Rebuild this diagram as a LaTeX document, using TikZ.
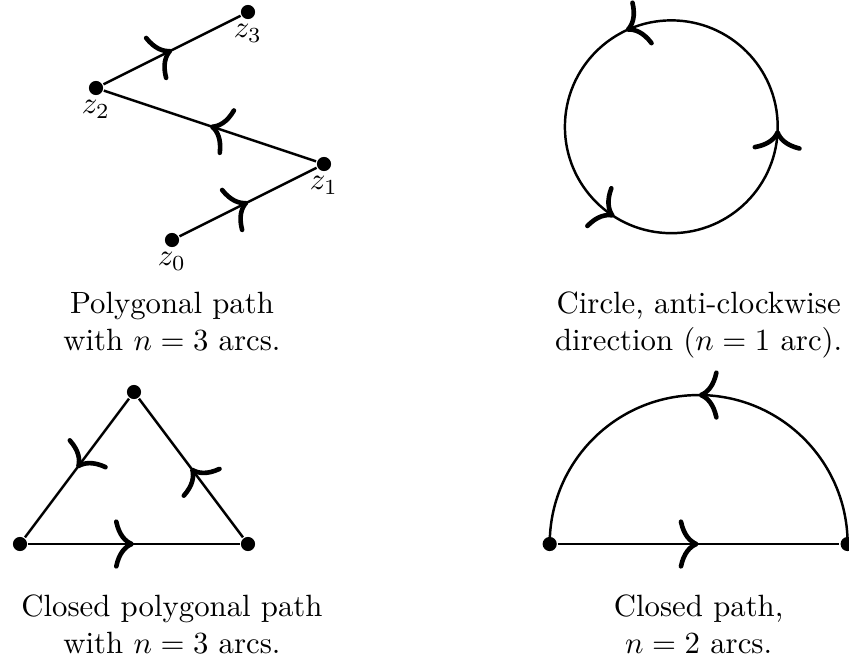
\documentclass[tikz,border=0pt]{standalone}
\usetikzlibrary{arrows.meta, decorations.markings, positioning}

\begin{document}
\begin{tikzpicture}[x=0.868cm, y=0.868cm, thick,
  flowtip/.tip={Computer Modern Rightarrow[length=6.5pt, width=16pt, line width=1.5pt]},
  dot/.style={circle, fill, inner sep=0pt, minimum size=4.6pt},
  lbl/.style={inner sep=3.33pt},
  flow/.style={decoration={markings, mark=at position #1 with {\arrow{flowtip}}}, postaction={decorate}},
  flow/.default=0.5,
  caption/.style={align=center, anchor=north, inner sep=0pt}]
  \useasboundingbox (-2.263,-5.513) rectangle (8.908,3.158);

  % polygonal path
  \node[dot] (z0) at (0,0) {};
  \node[dot] (z1) at (2,1) {};
  \node[dot] (z2) at (-1,2) {};
  \node[dot] (z3) at (1,3) {};
  \foreach \i in {0,...,3}
    \node[lbl, below=-2.3pt of z\i] (lz\i) {$z_\i$};
  \draw[flow] (z0) -- (z1);
  \draw[flow] (z1) -- (z2);
  \draw[flow] (z2) -- (z3);
  \node[caption] (cap1) at (0,-0.666) {Polygonal path\\with $n=3$ arcs.};

  % circle
  \coordinate (o) at (6.57,1.49);
  \draw[decoration={markings,
      mark=at position 0.32 with {\arrow{flowtip}},
      mark=at position 0.66 with {\arrow{flowtip}},
      mark=at position 0.995 with {\arrow{flowtip}}}, postaction={decorate}]
    (o) ++(0:1.4) arc[start angle=0, end angle=360, radius=1.4];
  \node[caption] (cap2) at (6.93,-0.666) {Circle, anti-clockwise\\direction ($n=1$ arc).};

  % closed polygonal path
  \node[dot] (ta) at (-2,-4) {};
  \node[dot] (tb) at (1,-4) {};
  \node[dot] (tc) at (-0.5,-2) {};
  \draw[flow] (ta) -- (tb);
  \draw[flow] (tb) -- (tc);
  \draw[flow] (tc) -- (ta);
  \node[caption] (cap3) at (0,-4.653) {Closed polygonal path\\with $n=3$ arcs.};

  % closed path
  \node[dot] (p) at (4.97,-4) {};
  \node[dot] (q) at (8.89,-4) {};
  \draw[flow] (p) -- (q);
  \draw[flow] (q.center) arc[start angle=0, end angle=180, radius=1.96];
  \node[caption] (cap4) at (6.93,-4.653) {Closed path,\\$n=2$ arcs.};
\end{tikzpicture}
\end{document}
